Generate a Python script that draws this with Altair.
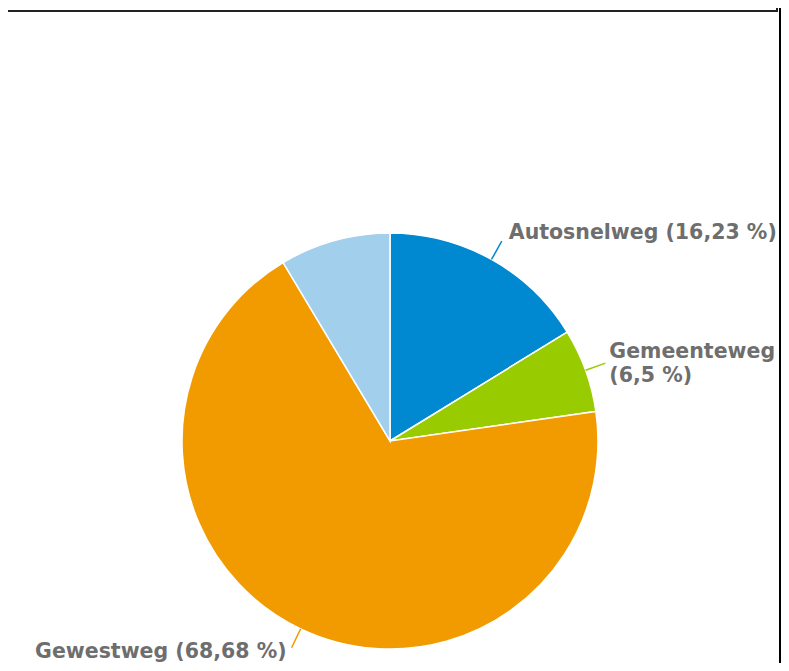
import altair as alt
import pandas as pd

# data
categories = ["Autosnelweg", "Gemeenteweg", "Gewestweg", "Overige"]
shares = [16.23, 6.5, 68.68, 8.59]
colors = ["#0088d1", "#99cc00", "#f29b00", "#a2cfec"]
order = [0, 1, 2, 3]

df = pd.DataFrame({"cat": categories, "v": shares, "idx": order})

W, H = 773, 655
CX, CY = 382, 433
R = 208
R_END = 229

color = alt.Color("cat:N", scale=alt.Scale(domain=categories, range=colors), legend=None)

base = alt.Chart(df)

pie = base.mark_arc(radius=R, x=CX, y=CY, stroke="white", strokeWidth=1.5).encode(
    theta=alt.Theta("v:Q", stack=True),
    color=color,
    order=alt.Order("idx:Q"),
)

geo = (
    base.transform_window(cum="sum(v)", sort=[{"field": "idx"}])
    .transform_joinaggregate(total="sum(v)")
    .transform_calculate(mid="(datum.cum - datum.v / 2) / datum.total * 2 * PI")
    .transform_calculate(
        x1=f"{CX} + {R} * sin(datum.mid)",
        y1=f"{CY} - {R} * cos(datum.mid)",
        x2=f"{CX} + {R_END} * sin(datum.mid)",
        y2=f"{CY} - {R_END} * cos(datum.mid)",
        num="replace(toString(datum.v), '.', ',')",
    )
    .transform_filter("datum.cat != 'Overige'")
)

rules = geo.mark_rule(strokeWidth=1.5).encode(
    x=alt.X("x1:Q", scale=None),
    y=alt.Y("y1:Q", scale=None),
    x2="x2:Q",
    y2="y2:Q",
    color=color,
)

font = dict(font="DejaVu Sans", fontSize=20.5, fontWeight="bold", color="#6e6e6e")

def label_layer(cat, sep, **kw):
    return (
        geo.transform_filter(f"datum.cat == '{cat}'")
        .transform_calculate(lbl=f"datum.cat + '{sep}(' + datum.num + ' %)'")
        .mark_text(lineBreak="\n", **font, **kw)
        .encode(x=alt.X("x2:Q", scale=None), y=alt.Y("y2:Q", scale=None), text="lbl:N")
    )

t1 = label_layer("Autosnelweg", " ", align="left", baseline="alphabetic", dx=7, dy=-2)
t2 = label_layer("Gemeenteweg", "\\n", align="left", baseline="top", dx=4, dy=-21, lineHeight=24)
t3 = label_layer("Gewestweg", " ", align="right", baseline="alphabetic", dx=-5, dy=10)

# frame pieces: bottom of the title box and the right-hand border
box = alt.Chart(pd.DataFrame({"a": [0]})).mark_rect(
    fill="white", stroke="#222222", strokeWidth=2
).encode(x=alt.value(-10), x2=alt.value(769), y=alt.value(-50), y2=alt.value(3))

edge = alt.Chart(pd.DataFrame({"a": [0]})).mark_rule(color="black", strokeWidth=2).encode(
    x=alt.value(772), y=alt.value(-10), y2=alt.value(H + 10)
)

chart = (
    alt.layer(box, pie, rules, t1, t2, t3, edge)
    .properties(width=W, height=H, padding=0, autosize=alt.AutoSizeParams(type="none"))
    .configure_view(stroke=None)
)

chart.save("out.html", embed_options={"renderer": "svg", "actions": False})
